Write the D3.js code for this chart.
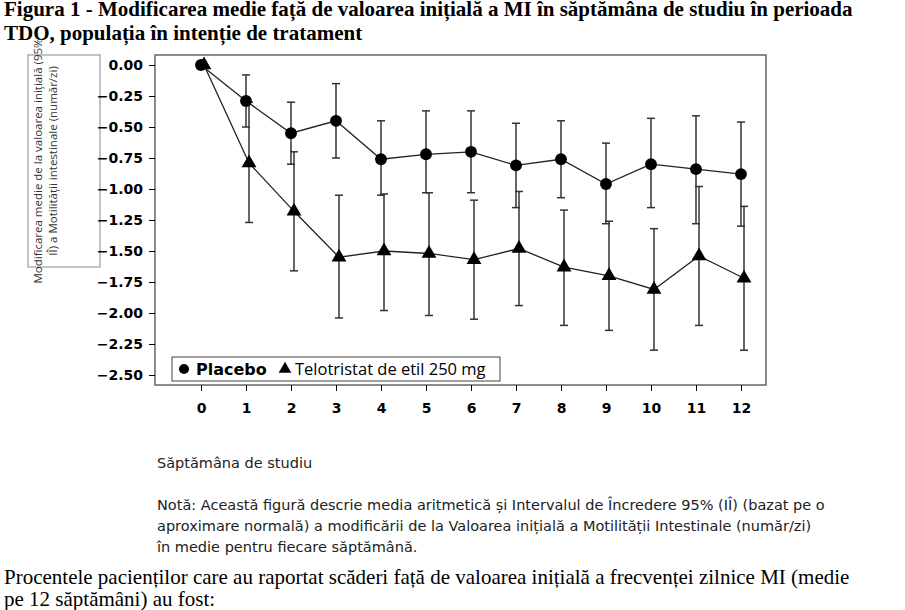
<!DOCTYPE html>
<html><head><meta charset="utf-8">
<style>
body{margin:0;background:#fff;}
.title{font-family:"Liberation Serif",serif;font-weight:bold;font-size:21px;}
.ax text{font-family:"DejaVu Sans",sans-serif;font-size:14px;font-weight:bold;}
.lbl{font-family:"DejaVu Sans",sans-serif;font-size:14.5px;fill:#222;}
</style></head><body>
<svg id="c" width="905" height="610"></svg>
<script src="https://d3js.org/d3.v7.min.js"></script>
<script>
var weeks = [0,1,2,3,4,5,6,7,8,9,10,11,12];
var placebo = [0,-0.29,-0.55,-0.45,-0.76,-0.72,-0.70,-0.81,-0.76,-0.96,-0.80,-0.84,-0.88];
var placeboHi = [0,-0.08,-0.30,-0.15,-0.45,-0.37,-0.37,-0.47,-0.45,-0.63,-0.43,-0.41,-0.46];
var placeboLo = [0,-0.50,-0.80,-0.75,-1.05,-1.03,-1.03,-1.15,-1.07,-1.28,-1.15,-1.28,-1.30];
var telo = [0,-0.79,-1.18,-1.55,-1.50,-1.52,-1.57,-1.48,-1.63,-1.70,-1.81,-1.54,-1.72];
var teloHi = [0,-0.30,-0.70,-1.05,-1.04,-1.03,-1.09,-1.02,-1.17,-1.26,-1.32,-0.98,-1.14];
var teloLo = [0,-1.27,-1.66,-2.04,-1.98,-2.02,-2.05,-1.94,-2.10,-2.14,-2.30,-2.10,-2.30];
var yTicks = [0,-0.25,-0.5,-0.75,-1,-1.25,-1.5,-1.75,-2,-2.25,-2.5];

var svg = d3.select("#c");
svg.append("text").attr("class","title").attr("x",4).attr("y",16).text("Figura 1 - Modificarea medie față de valoarea inițială a MI în săptămâna de studiu în perioada");
svg.append("text").attr("class","title").attr("x",4).attr("y",40).text("TDO, populația în intenție de tratament");

var x = d3.scaleLinear().domain([0,12]).range([201,741]);
var y = d3.scaleLinear().domain([0,-2.5]).range([65,375]);

svg.append("rect").attr("x",155).attr("y",55).attr("width",611).attr("height",330)
  .attr("fill","none").attr("stroke","#666").attr("stroke-width",1.5);
// y-axis label box
svg.append("rect").attr("x",28).attr("y",55).attr("width",72).attr("height",212)
  .attr("fill","none").attr("stroke","#888");
var yl = svg.append("text").attr("font-family","Open Sans").attr("font-size",11.5).attr("fill","#333")
  .attr("transform","translate(42,161) rotate(-90)").attr("text-anchor","middle");
yl.append("tspan").attr("x",0).attr("dy",0).text("Modificarea medie de la valoarea inițială (95%");
yl.append("tspan").attr("x",0).attr("dy",15).text("IÎ) a Motilității intestinale (număr/zi)");

svg.append("g").attr("class","ax").attr("transform","translate(155,0)")
  .call(d3.axisLeft(y).tickValues(yTicks).tickFormat(d3.format(".2f")).tickSize(6).tickPadding(6))
  .call(g=>g.select(".domain").remove());
svg.append("g").attr("class","ax").attr("transform","translate(0,385)")
  .call(d3.axisBottom(x).tickValues(weeks).tickFormat(d3.format("d")).tickSize(6).tickPadding(12))
  .call(g=>g.select(".domain").remove());

function series(v, hi, lo, sym, dx){
  var g = svg.append("g");
  g.append("path").datum(weeks).attr("fill","none").attr("stroke","#222").attr("stroke-width",1.3)
    .attr("d", d3.line().x(i=>x(i)+dx).y(i=>y(v[i])));
  weeks.slice(1).forEach(function(i){
    var cx = x(i)+dx;
    g.append("line").attr("x1",cx).attr("x2",cx).attr("y1",y(hi[i])).attr("y2",y(lo[i])).attr("stroke","#333").attr("stroke-width",1.5);
    [hi[i],lo[i]].forEach(function(e){
      g.append("line").attr("x1",cx-4).attr("x2",cx+4).attr("y1",y(e)).attr("y2",y(e)).attr("stroke","#333").attr("stroke-width",1.5);
    });
  });
  g.selectAll(".m").data(weeks).enter().append("path")
    .attr("transform", i=>"translate("+(x(i)+dx)+","+y(v[i])+")")
    .attr("d", d3.symbol().type(sym).size(sym===d3.symbolCircle?110:95)).attr("fill","#000");
}
series(telo, teloHi, teloLo, d3.symbolTriangle, 3);
series(placebo, placeboHi, placeboLo, d3.symbolCircle, 0);

// legend
var lg = svg.append("g");
lg.append("rect").attr("x",172).attr("y",357).attr("width",328).attr("height",24).attr("fill","#fff").attr("stroke","#444");
lg.append("path").attr("transform","translate(184,369)").attr("d",d3.symbol().type(d3.symbolCircle).size(80));
lg.append("text").attr("x",196).attr("y",375).attr("font-family","DejaVu Sans").attr("font-weight","bold").attr("font-size",16).text("Placebo");
lg.append("path").attr("transform","translate(285,369)").attr("d",d3.symbol().type(d3.symbolTriangle).size(70));
lg.append("text").attr("x",295).attr("y",375).attr("font-family","Open Sans").attr("font-size",16.5).text("Telotristat de etil 250 mg");

svg.append("text").attr("class","lbl").attr("x",157).attr("y",468).text("Săptămâna de studiu");
["Notă: Această figură descrie media aritmetică și Intervalul de Încredere 95% (IÎ) (bazat pe o",
 "aproximare normală) a modificării de la Valoarea inițială a Motilității Intestinale (număr/zi)",
 "în medie pentru fiecare săptămână."].forEach(function(t,i){
  svg.append("text").attr("class","lbl").attr("x",157).attr("y",510+i*21).text(t);
});
svg.append("text").attr("font-family","Liberation Serif").attr("font-size",21).attr("x",4).attr("y",584)
  .text("Procentele pacienților care au raportat scăderi față de valoarea inițială a frecvenței zilnice MI (medie");
svg.append("text").attr("font-family","Liberation Serif").attr("font-size",21).attr("x",4).attr("y",606)
  .text("pe 12 săptămâni) au fost:");
</script></body></html>
